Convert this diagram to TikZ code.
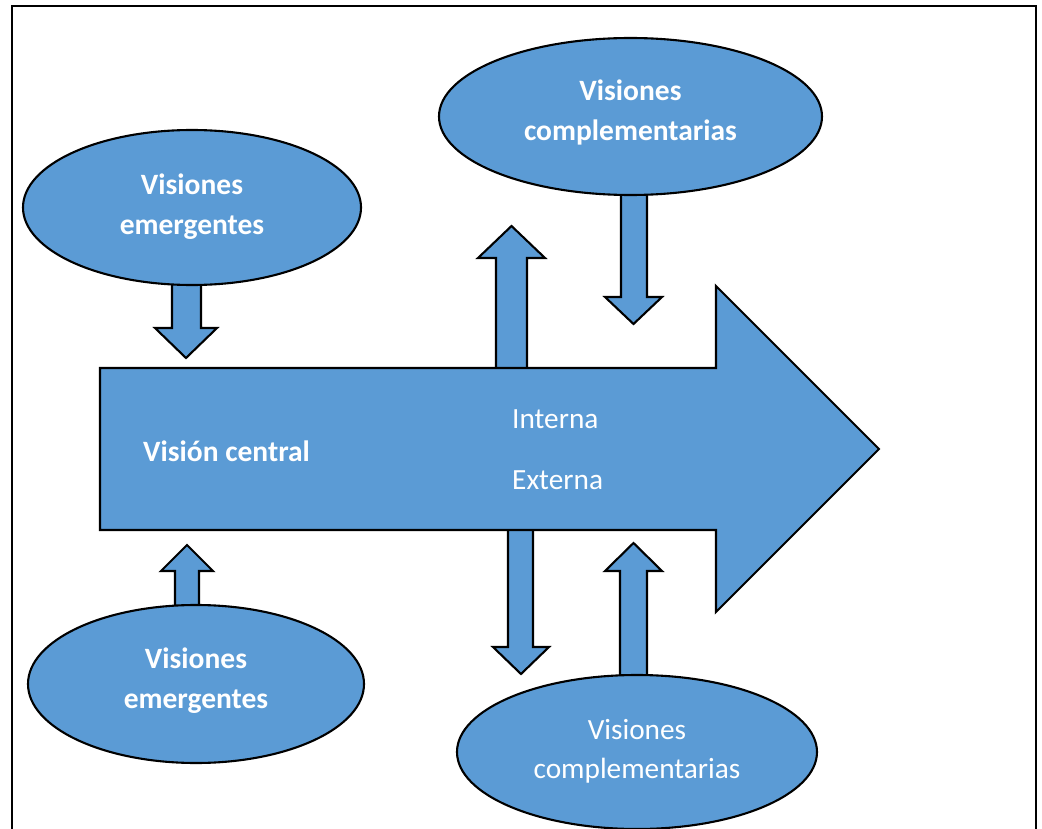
\documentclass[tikz,border=0pt]{standalone}
\usepackage{fontspec}
\setmainfont{Carlito}
\usetikzlibrary{shapes.geometric}
\definecolor{officeblue}{HTML}{5B9BD5}
\newcommand\blkarrow[7]{\draw[shapeline] (#1,#3) -- (#1,#4) -- (#5,#4) -- ({(#5+#6)/2},#7) -- (#6,#4) -- (#2,#4) -- (#2,#3) -- cycle;}
\begin{document}
\begin{tikzpicture}[x=1pt,y=-1pt,
  shapeline/.style={draw=black, line width=2.1pt, fill=officeblue, line join=miter},
  ell/.style={shapeline, ellipse, inner sep=0pt},
  etxt/.style={text=white, align=center, inner sep=0pt},
  boldtxt/.style={font=\fontsize{29.5}{40}\selectfont\bfseries},
  regtxt/.style={font=\fontsize{29.3}{39}\selectfont},
  lbl/.style={text=white, inner sep=0pt, anchor=west}]
\useasboundingbox (0,0) rectangle (1042,829);
% frame
\draw[line width=2pt] (12,835) -- (12,6) -- (1036,6) -- (1036,835);
% arrows attached to the main arrow
\blkarrow{496}{527}{375}{258}{478}{545}{226}
\blkarrow{508}{533}{520}{647}{493}{549}{674}
% main arrow
\draw[shapeline] (100,368) -- (716,368) -- (716,286) -- (879,449) -- (716,612) -- (716,530) -- (100,530) -- cycle;
\node[lbl, boldtxt] (central) at (143,451) {Visión central};
\node[lbl, regtxt] (interna) at (512,419) {Interna};
\node[lbl, regtxt] (externa) at (512,480) {Externa};
% arrows attached to ellipses
\blkarrow{172}{201}{270}{328}{155}{217}{358}
\blkarrow{175}{199}{620}{571}{161}{213}{545}
\blkarrow{621}{647}{180}{297}{605}{662}{324}
\blkarrow{620}{647}{690}{571}{605}{662}{543}
% ellipses
\node[ell, minimum width=338pt, minimum height=155pt] (e1) at (192,207.5) {};
\node[ell, minimum width=383pt, minimum height=157pt] (e2) at (630.5,116.5) {};
\node[ell, minimum width=336pt, minimum height=158pt] (e3) at (196,684) {};
\node[ell, minimum width=360pt, minimum height=154pt] (e4) at (637,752) {};
\node[etxt, boldtxt] (e1t) at ([yshift=0.5pt]e1.center) {Visiones\\emergentes};
\node[etxt, boldtxt] (e2t) at ([yshift=4pt]e2.center) {Visiones\\complementarias};
\node[etxt, boldtxt] (e3t) at ([yshift=3pt]e3.center) {Visiones\\emergentes};
\node[etxt, regtxt] (e4t) at ([yshift=1pt]e4.center) {Visiones\\complementarias};
\end{tikzpicture}
\end{document}
